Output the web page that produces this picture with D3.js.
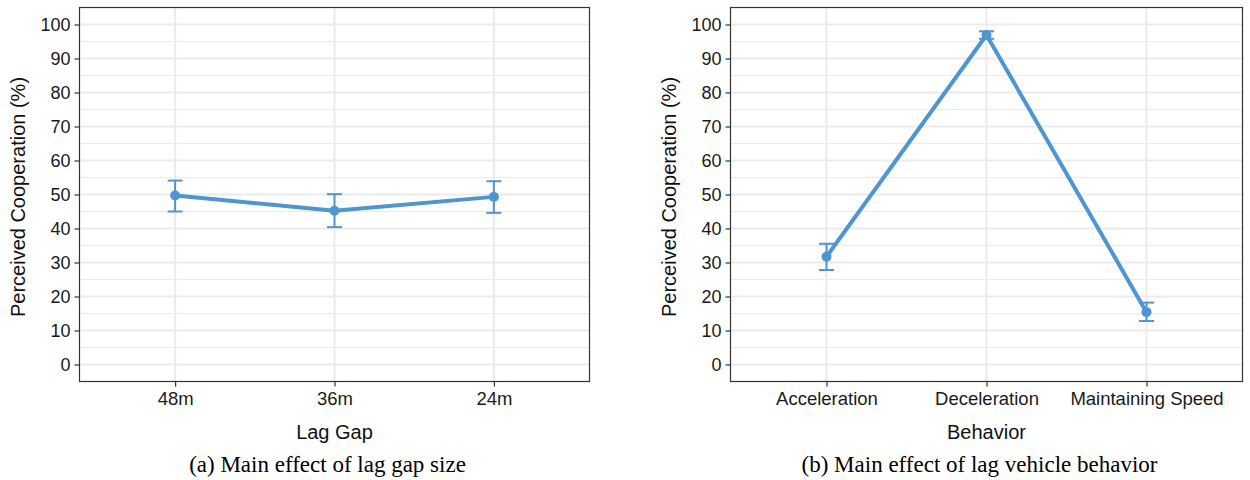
<!DOCTYPE html>
<html>
<head>
<meta charset="utf-8">
<script src="https://cdn.jsdelivr.net/npm/d3@7"></script>
<style>
  body { margin: 0; background: #fff; }
  svg text { font-family: "Liberation Sans", Arial, sans-serif; }
  .caption { font-family: "Liberation Serif", "Times New Roman", serif; }
</style>
</head>
<body>
<svg id="chart" width="1250" height="480"></svg>
<script>
// panel (a): lag gap
const gapCats = ['48m', '36m', '24m'];
const gapMean = [49.7, 45.2, 49.3];
const gapLow = [45.0, 40.4, 44.6];
const gapHigh = [54.1, 50.1, 53.9];

// panel (b): lag vehicle behaviour
const behCats = ['Acceleration', 'Deceleration', 'Maintaining Speed'];
const behMean = [31.7, 96.9, 15.4];
const behLow = [27.8, 95.8, 12.8];
const behHigh = [35.5, 98.0, 18.2];

const yTicks = [0, 10, 20, 30, 40, 50, 60, 70, 80, 90, 100];
const yMinor = [-5, 5, 15, 25, 35, 45, 55, 65, 75, 85, 95, 105];

const color = '#4f96d1';
const plotTop = 7.5, plotBottom = 381.5;

const svg = d3.select('#chart');

function drawPanel(left, right, cats, mean, low, high, xTitle, caption) {
  const x = d3.scalePoint().domain(cats).range([left, right]).padding(0.6);
  const y = d3.scaleLinear().domain([-5, 105]).range([plotBottom, plotTop]);
  const g = svg.append('g');

  // grid
  g.selectAll('.minor').data(yMinor).join('line')
    .attr('x1', left).attr('x2', right)
    .attr('y1', d => y(d)).attr('y2', d => y(d))
    .attr('stroke', '#ebebeb').attr('stroke-width', 1);
  g.selectAll('.major').data(yTicks).join('line')
    .attr('x1', left).attr('x2', right)
    .attr('y1', d => y(d)).attr('y2', d => y(d))
    .attr('stroke', '#ebebeb').attr('stroke-width', 2);
  g.selectAll('.vmajor').data(cats).join('line')
    .attr('x1', d => x(d)).attr('x2', d => x(d))
    .attr('y1', plotTop).attr('y2', plotBottom)
    .attr('stroke', '#ebebeb').attr('stroke-width', 2);

  // axes
  const yAxis = g.append('g').attr('transform', `translate(${left},0)`)
    .call(d3.axisLeft(y).tickValues(yTicks).tickSize(5).tickPadding(4));
  const xAxis = g.append('g').attr('transform', `translate(0,${plotBottom})`)
    .call(d3.axisBottom(x).tickSize(5).tickPadding(4));
  [yAxis, xAxis].forEach(a => {
    a.select('.domain').remove();
    a.selectAll('line').attr('stroke', '#333').attr('stroke-width', 1.2);
    a.selectAll('text').attr('font-size', 18.5).attr('fill', '#1a1a1a')
      .attr('font-family', '"Liberation Sans", Arial, sans-serif');
  });
  yAxis.selectAll('text').attr('font-size', 18);
  xAxis.selectAll('text').attr('dy', '0.78em');

  // data
  const idx = d3.range(cats.length);
  const line = d3.line().x(i => x(cats[i])).y(i => y(mean[i]));
  g.append('path').datum(idx).attr('d', line)
    .attr('fill', 'none').attr('stroke', color).attr('stroke-width', 4)
    .attr('stroke-linejoin', 'round');
  const eb = g.selectAll('.eb').data(idx).join('g');
  eb.append('line').attr('x1', i => x(cats[i])).attr('x2', i => x(cats[i]))
    .attr('y1', i => y(low[i])).attr('y2', i => y(high[i]));
  eb.append('line').attr('x1', i => x(cats[i]) - 7.5).attr('x2', i => x(cats[i]) + 7.5)
    .attr('y1', i => y(low[i])).attr('y2', i => y(low[i]));
  eb.append('line').attr('x1', i => x(cats[i]) - 7.5).attr('x2', i => x(cats[i]) + 7.5)
    .attr('y1', i => y(high[i])).attr('y2', i => y(high[i]));
  eb.selectAll('line').attr('stroke', color).attr('stroke-width', 2);
  g.selectAll('.pt').data(idx).join('circle')
    .attr('cx', i => x(cats[i])).attr('cy', i => y(mean[i])).attr('r', 5)
    .attr('fill', color);

  // border
  g.append('rect').attr('x', left).attr('y', plotTop)
    .attr('width', right - left).attr('height', plotBottom - plotTop)
    .attr('fill', 'none').attr('stroke', '#333').attr('stroke-width', 1.2);

  // titles
  g.append('text').attr('x', (left + right) / 2).attr('y', 439)
    .attr('text-anchor', 'middle').attr('font-size', 20).attr('fill', '#111')
    .text(xTitle);
  g.append('text')
    .attr('transform', `translate(${left - 55},197) rotate(-90)`)
    .attr('text-anchor', 'middle').attr('font-size', 20).attr('fill', '#111')
    .text('Perceived Cooperation (%)');
  g.append('text').attr('class', 'caption')
    .attr('x', (left + right) / 2 - 7).attr('y', 472)
    .attr('text-anchor', 'middle').attr('font-size', 23).attr('fill', '#000')
    .text(caption);
}

drawPanel(79.5, 589.5, gapCats, gapMean, gapLow, gapHigh,
  'Lag Gap', '(a) Main effect of lag gap size');
drawPanel(730.5, 1242.5, behCats, behMean, behLow, behHigh,
  'Behavior', '(b) Main effect of lag vehicle behavior');
</script>
</body>
</html>
